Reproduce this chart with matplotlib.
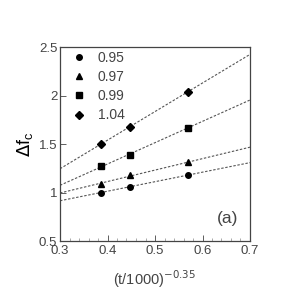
import numpy as np
import matplotlib.pyplot as plt
from matplotlib.ticker import MultipleLocator

# x = (t/1000)^-0.35 for t = 15000, 10000, 5000
x = [0.387, 0.447, 0.570]
labels = ["0.95", "0.97", "0.99", "1.04"]
y_095 = [1.00, 1.06, 1.18]
y_097 = [1.09, 1.18, 1.31]
y_099 = [1.27, 1.39, 1.67]
y_104 = [1.50, 1.68, 2.04]
markers = ["o", "^", "s", "D"]
sizes = [4.0, 5.0, 4.0, 3.6]

plt.rcParams["font.family"] = ["Liberation Sans", "DejaVu Sans"]
fig = plt.figure(figsize=(3, 3), dpi=100)
ax = fig.add_axes([60 / 300, 1 - 241 / 300, 190 / 300, 194 / 300])

xs = np.array(x)
xline = np.array([0.3, 0.7])
for ys, m, s, lab in zip([y_095, y_097, y_099, y_104], markers, sizes, labels):
    k, b = np.polyfit(xs, ys, 1)
    ax.plot(xline, k * xline + b, ls=(0, (2.2, 1.5)), color="#555555", lw=0.8)
    ax.plot(xs, ys, ls="none", marker=m, ms=s, color="black", label=lab)

ax.set_xlim(0.3, 0.7)
ax.set_ylim(0.5, 2.5)
ax.xaxis.set_major_locator(MultipleLocator(0.1))
ax.xaxis.set_minor_locator(MultipleLocator(0.02))
ax.set_yticks([0.5, 1, 1.5, 2, 2.5], ["0.5", "1", "1.5", "2", "2.5"])
ax.tick_params(direction="in", length=4, width=0.6, colors="#444444",
               labelsize=9.5, labelcolor="#444444")
ax.tick_params(axis="x", which="minor", direction="in", length=2, width=0.5,
               colors="#888888")
ax.tick_params(axis="y", pad=2)
ax.tick_params(axis="x", pad=3)
for sp in ax.spines.values():
    sp.set_color("#444444")
    sp.set_linewidth(0.9)

ax.set_xlabel(r"(t/1000)$^{-0.35}$", fontsize=10.5, color="#444444", labelpad=8)
ax.set_ylabel(r"$\Delta$f$_\mathregular{c}$", fontsize=13, color="black", labelpad=3)
ax.text(0.94, 0.115, "(a)", transform=ax.transAxes, ha="right", va="center",
        fontsize=12.5, color="#444444")

ax.legend(loc="upper left", frameon=False, fontsize=10, labelcolor="#444444",
          handlelength=1.0, handletextpad=0.86, labelspacing=0.37,
          borderaxespad=0.0, bbox_to_anchor=(0.034, 1.008))

fig.savefig("out.png", dpi=100)
